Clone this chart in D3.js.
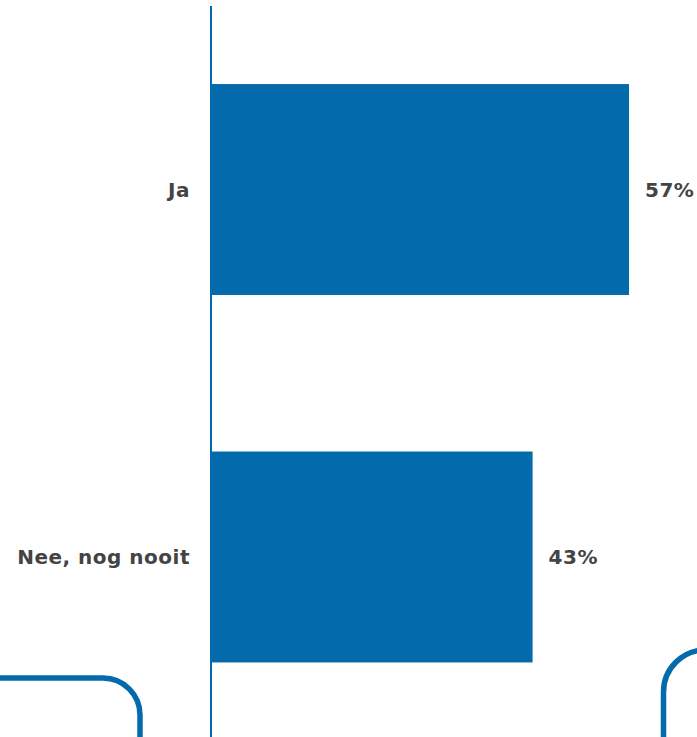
<!DOCTYPE html>
<html><head><meta charset="utf-8">
<script src="https://cdn.jsdelivr.net/npm/d3@7"></script>
<style>html,body{margin:0;padding:0;background:#fff;overflow:hidden}</style>
</head><body>
<script>
const categories = ["Ja", "Nee, nog nooit"];
const values = [56.5, 43.5];
const valueLabels = ["57%", "43%"];

const W = 697, H = 737;
const blue = "#036BAC";
const svg = d3.select("body").append("svg").attr("width", W).attr("height", H);

const x = d3.scaleLinear().domain([0, 56.5]).range([210, 629]);
const y = d3.scaleBand().domain(categories).range([-72.5, 819]).padding(0.426);

// decorative rounded frames
svg.append("rect").attr("x", -200).attr("y", 678).attr("width", 340).attr("height", 200)
  .attr("rx", 37).attr("fill", "none").attr("stroke", blue).attr("stroke-width", 5.5);
svg.append("rect").attr("x", 663.5).attr("y", 650).attr("width", 300).attr("height", 200)
  .attr("rx", 42).attr("fill", "none").attr("stroke", blue).attr("stroke-width", 5.5);

const data = categories.map((c, i) => ({c, v: values[i], l: valueLabels[i]}));

svg.selectAll("rect.bar").data(data).join("rect").attr("class", "bar")
  .attr("x", x(0)).attr("y", d => y(d.c)).attr("width", d => x(d.v) - x(0))
  .attr("height", y.bandwidth()).attr("fill", blue);

svg.append("line").attr("x1", 211).attr("x2", 211).attr("y1", 6).attr("y2", H)
  .attr("stroke", blue).attr("stroke-width", 2);

const font = "'DejaVu Sans', Verdana, sans-serif";
svg.selectAll("text.cat").data(data).join("text").attr("class", "cat")
  .attr("x", 190).attr("y", d => y(d.c) + y.bandwidth() / 2).attr("dy", "0.35em")
  .attr("text-anchor", "end").attr("font-family", font).attr("font-weight", "bold")
  .attr("font-size", 20).attr("letter-spacing", 0.5).attr("fill", "#444").text(d => d.c);

svg.selectAll("text.val").data(data).join("text").attr("class", "val")
  .attr("x", d => x(d.v) + 16).attr("y", d => y(d.c) + y.bandwidth() / 2).attr("dy", "0.35em")
  .attr("font-family", font).attr("font-weight", "bold")
  .attr("font-size", 20).attr("letter-spacing", 0.5).attr("fill", "#444").text(d => d.l);
</script>
</body></html>
